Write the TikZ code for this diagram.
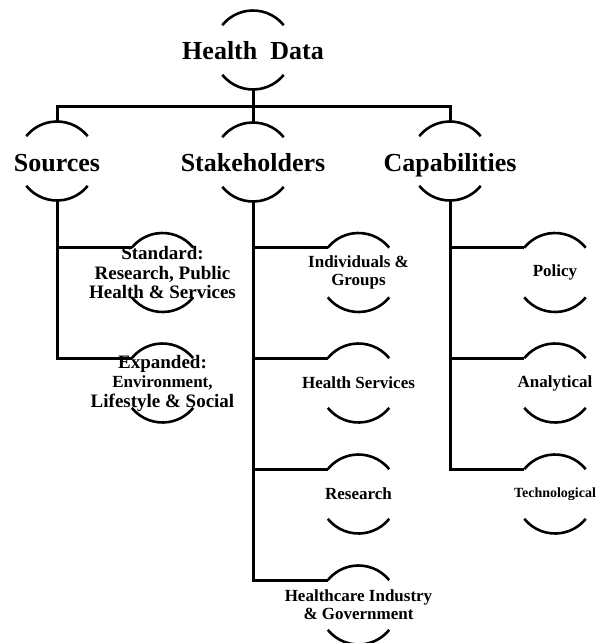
\documentclass[tikz,border=0pt]{standalone}
\usepackage{fontspec}
\setmainfont{Liberation Serif}
\begin{document}
\begin{tikzpicture}[x=1pt,y=1pt,
  ring/.style={circle,minimum size=79pt,inner sep=0pt,outer sep=0pt},
  arcline/.style={line width=2.6pt},
  conn/.style={line width=3pt},
  tbig/.style={font=\bfseries\fontsize{26}{30}\selectfont,inner sep=0pt,anchor=base},
  tmid/.style={font=\bfseries\fontsize{19}{19.5}\selectfont,align=center,inner sep=0pt},
  tsmall/.style={font=\bfseries\fontsize{17}{18}\selectfont,align=center,inner sep=0pt},
  ttiny/.style={font=\bfseries\fontsize{14}{16}\selectfont,align=center,inner sep=0pt}]
\useasboundingbox[fill=white] (0,0) rectangle (596,-643);

% rings
\node[ring] (hd)  at (253,-50) {};
\node[ring] (so)  at (57,-161) {};
\node[ring] (st)  at (253,-162) {};
\node[ring] (ca)  at (450,-161) {};
\node[ring] (std) at (162.5,-272.5) {};
\node[ring] (exp) at (162.5,-383) {};
\node[ring] (ind) at (358.5,-272.5) {};
\node[ring] (hs)  at (358.5,-383) {};
\node[ring] (res) at (358.5,-494) {};
\node[ring] (hig) at (358.5,-605) {};
\node[ring] (pol) at (555,-272.5) {};
\node[ring] (ana) at (555,-383) {};
\node[ring] (tec) at (555,-494) {};

\foreach \n in {hd,so,st,ca,std,exp,ind,hs,res,hig,pol,ana,tec}{
  \draw[arcline] (\n.39) arc[start angle=39,end angle=141,radius=39.5pt];
  \draw[arcline] (\n.219) arc[start angle=219,end angle=321,radius=39.5pt];
}

% texts
\node[tbig] (hdT) at (253,-59) {Health\ \ Data};
\node[tbig] (soT) at (57,-171) {Sources};
\node[tbig] (stT) at (253,-171) {Stakeholders};
\node[tbig] (caT) at (450,-171) {Capabilities};
\node[tmid] (stdT) at (std) {Standard:\\Research, Public\\Health \& Services};
\node[tmid] (expT) at (exp) {Expanded:\\{\fontsize{17}{19.5}\selectfont Environment,}\\Lifestyle \& Social};
\node[tsmall] (indT) at (ind) {Individuals \&\\Groups};
\node[tsmall] (hsT) at (hs) {Health Services};
\node[tsmall] (resT) at (res) {Research};
\node[tsmall] (higT) at (hig) {Healthcare Industry\\\& Government};
\node[tsmall] (polT) at (pol) {Policy};
\node[tsmall] (anaT) at (ana) {Analytical};
\node[ttiny] (tecT) at (tec) {Technological};

% connectors
\coordinate (bar) at (253,-106);
\draw[conn] (hd.south) -- (st.north);
\draw[conn] (so.north) -- (so.north |- bar) -- (ca.north |- bar) -- (ca.north);
\draw[conn] (so.south) |- (std.141);
\draw[conn] (so.south) |- (exp.141);
\draw[conn] (st.south) |- (ind.141);
\draw[conn] (st.south) |- (hs.141);
\draw[conn] (st.south) |- (res.141);
\draw[conn] (st.south) |- (hig.141);
\draw[conn] (ca.south) |- (pol.141);
\draw[conn] (ca.south) |- (ana.141);
\draw[conn] (ca.south) |- (tec.141);
\end{tikzpicture}
\end{document}
